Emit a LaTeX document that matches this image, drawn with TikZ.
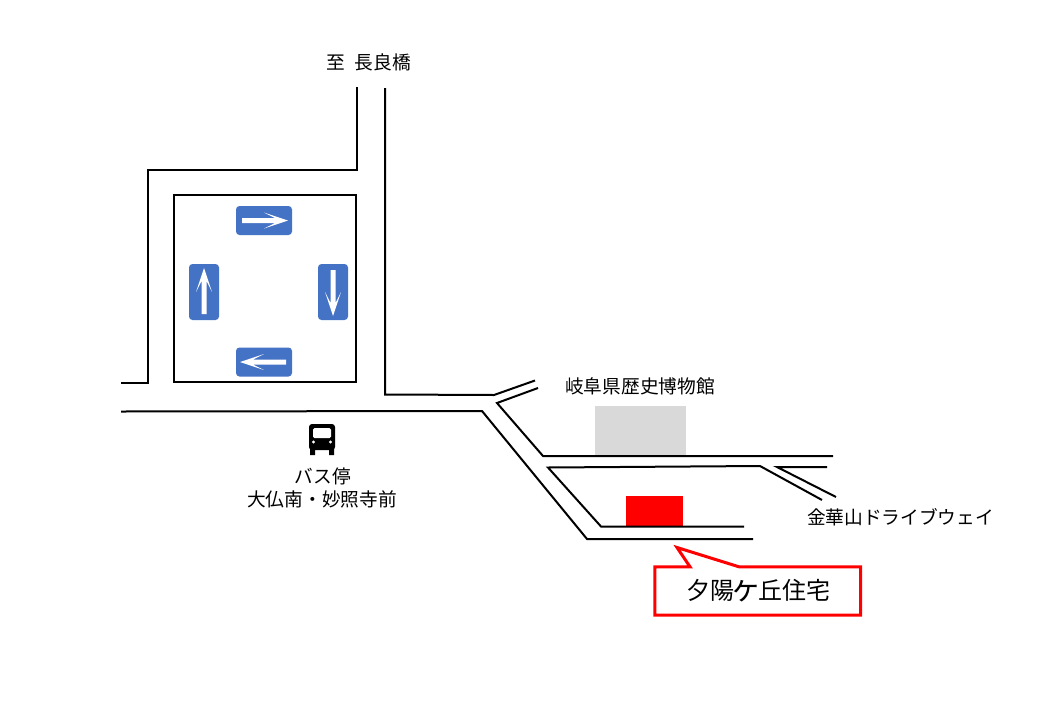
\documentclass[tikz,border=0pt]{standalone}
\usepackage{fontspec}
\setmainfont{Noto Sans CJK JP}
\tikzset{
  road/.style={draw=black,line width=2pt,line join=miter},
  blockbox/.style={draw=black,line width=2pt,fill=white,inner sep=0pt},
  signbox/.style={fill=signblue,rounded corners=3.5pt,inner sep=0pt},
  signh/.style={signbox,minimum width=56pt,minimum height=29pt},
  signv/.style={signbox,minimum width=30pt,minimum height=56pt},
  label/.style={font=\fontsize{18.7pt}{22pt}\selectfont,inner sep=0pt,text=black},
  arrowshape/.pic={\fill[white] (-22,-2.5)--(11,-2.5)--(0,-8)--(24,0)--(0,8)--(11,2.5)--(-22,2.5)--cycle;}
}
\definecolor{signblue}{HTML}{4472C4}
\begin{document}
\begin{tikzpicture}[x=1pt,y=-1pt]
\useasboundingbox (0,0) rectangle (1040,720);
% block and signs
\node[blockbox,minimum width=182pt,minimum height=187pt] (block) at (265,288.7) {};
\node[signh] (signT) at (264,220.5) {};
\node[signh] (signB) at (264,362) {};
\node[signv] (signL) at (204,292) {};
\node[signv] (signR) at (333,292) {};
\pic at (signT.center) {arrowshape};
\pic[rotate=180] at (signB.center) {arrowshape};
\pic[rotate=-90] at (signR.center) {arrowshape};
\pic[rotate=90] at (signL.center) {arrowshape};
% buildings
\node[fill=black!15,inner sep=0pt,minimum width=91pt,minimum height=49pt] (museum) at (640.5,430.5) {};
\node[fill=red,inner sep=0pt,minimum width=57pt,minimum height=30pt] (house) at (654.5,511) {};
% roads
\draw[road] (121,383)--(147.5,383)--(147.5,170)--(357,170)--(357,87);
\draw[road] (385,88)--(385,394.5)--(494,395)--(535,380.5);
\draw[road] (121,411.5)--(482,411)--(587,539)--(753,539);
\draw[road] (538,388)--(497,403)--(543,456)--(833,456);
\draw[road] (822,500)--(760,466)--(548,467.5)--(601,526.5)--(744,526.5);
\draw[road] (827,467)--(777,467)--(836,497);
% bus icon
\fill[black,rounded corners=3pt] (309,424) rectangle (335,450);
\fill[black] (310,448) rectangle (315,455) (329,448) rectangle (334,455);
\fill[white,rounded corners=1.5pt] (313,428) rectangle (331,438);
\fill[white] (313.5,442) circle (1.6) (330.5,442) circle (1.6);
% callout
\draw[red,line width=3pt,fill=white,miter limit=10] (654.8,566.8)--(690,566.8)--(677,547.5)--(739,566.8)--(860.5,566.8)--(860.5,615.2)--(654.8,615.2)--cycle;
% labels
\node[label] (north) at (369,62) {至\hspace{0.5em}長良橋};
\node[label] (bus1) at (323,476) {バス停};
\node[label] (bus2) at (322,499) {大仏南・妙照寺前};
\node[label] (mus) at (640,386) {岐阜県歴史博物館};
\node[label] (drive) at (900.5,517) {金華山ドライブウェイ};
\node[font=\fontsize{24pt}{28pt}\selectfont,inner sep=0pt] (home) at (758,591) {夕陽\makebox[1em]{\scalebox{1.3}{ヶ}}丘住宅};
\end{tikzpicture}
\end{document}
